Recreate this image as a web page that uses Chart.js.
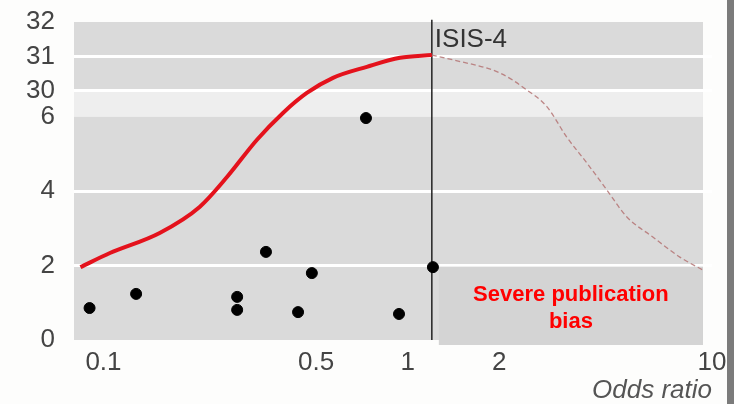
<!DOCTYPE html>
<html>
<head>
<meta charset="utf-8">
<script src="https://cdn.jsdelivr.net/npm/chart.js@4"></script>
<style>
  html, body { margin: 0; padding: 0; background: #fdfdfc; overflow: hidden; }
  #wrap { position: absolute; left: 0; top: 0; width: 727px; height: 404px; }
  #edge { position: absolute; left: 727px; top: 0; width: 7px; height: 404px; background: #7b7b7b; }
</style>
</head>
<body>
<div id="wrap"><canvas id="myChart" width="727" height="404"></canvas></div>
<div id="edge"></div>
<script>
/* trials: odds ratio and size */
const trialOR = [0.09, 0.128, 0.275, 0.275, 0.342, 0.436, 0.484, 0.729, 0.936, 1.21];
const trialN  = [0.86, 1.24, 1.16, 0.81, 2.37, 0.75, 1.80, 5.97, 0.70, 1.96];

/* solid red curve (left of ISIS-4) */
const curveOR = [0.084, 0.105, 0.153, 0.207, 0.255, 0.319, 0.389, 0.466, 0.568, 0.734, 0.943, 1.2];
const curveN  = [1.96, 2.34, 2.88, 3.58, 4.39, 5.38, 9.7, 28.1, 30.38, 30.70, 30.96, 31.04];

/* dashed curve (right of ISIS-4) */
const biasOR = [1.2, 1.41, 2.01, 2.46, 2.87, 3.33, 3.88, 4.51, 5.25, 6.39, 7.84, 9.34];
const biasN  = [31.04, 30.90, 30.52, 30.03, 15.3, 5.46, 4.76, 4.04, 3.31, 2.77, 2.23, 1.88];

const xTicks = [0.1, 0.5, 1, 2, 10];
const xTickLabels = ["0.1", "0.5", "1", "2", "10"];
const yTicks = [0, 2, 4, 6, 30, 31, 32];
const yTickLabels = ["0", "2", "4", "6", "30", "31", "32"];

const isisOR = 1.2;
const isisLabel = "ISIS-4";
const biasText = ["Severe publication", "bias"];
const grayEnd = 9.34;

/* broken y axis: 0-6 as is, 6-30 squeezed, 30-32 above */
function yPos(v){
    if (v <= 6) return v;
    if (v <= 30) return 6 + (v - 6) / 24 * 0.70;
    return 6.70 + (v - 30) * 0.927;
}

const FONT = "'Liberation Sans', Arial, sans-serif";

const backdrop = {
    id: "backdrop",
    beforeDraw(chart){
        const { ctx, chartArea, scales: { x, y } } = chart;
        const right = x.getPixelForValue(grayEnd);
        ctx.save();
        ctx.fillStyle = "#dadada";
        ctx.fillRect(chartArea.left, chartArea.top, right - chartArea.left, chartArea.bottom - chartArea.top);
        const y6 = y.getPixelForValue(yPos(6));
        const y30 = y.getPixelForValue(yPos(30));
        ctx.fillStyle = "#eeeeee";
        ctx.fillRect(chartArea.left, y30, right - chartArea.left, y6 - y30);
        ctx.restore();
    },
    beforeDatasetsDraw(chart){
        const { ctx, chartArea, scales: { x, y } } = chart;
        const left = x.getPixelForValue(isisOR) + 7;
        const right = x.getPixelForValue(grayEnd);
        const top = y.getPixelForValue(yPos(2)) + 1;
        ctx.save();
        ctx.fillStyle = "#d4d4d4";
        ctx.fillRect(left, top, right - left, chartArea.bottom + 5 - top);
        ctx.restore();
    },
    afterDatasetsDraw(chart){
        const { ctx, scales: { x } } = chart;
        const lx = x.getPixelForValue(isisOR);
        ctx.save();
        ctx.fillStyle = "#333";
        ctx.font = "26px " + FONT;
        ctx.textAlign = "left";
        ctx.textBaseline = "middle";
        ctx.fillText(isisLabel, lx + 3, 40);

        const cx = (lx + 7 + x.getPixelForValue(grayEnd)) / 2;
        ctx.fillStyle = "#ff0000";
        ctx.font = "bold 22px " + FONT;
        ctx.textAlign = "center";
        ctx.fillText(biasText[0], cx, 295);
        ctx.fillText(biasText[1], cx, 322);
        ctx.restore();
    }
};

const toPoints = (xs, ys) => xs.map((v, i) => ({ x: v, y: yPos(ys[i]) }));

const config = {
    type: "scatter",
    data: {
        datasets: [
            {
                label: "Trials",
                data: toPoints(trialOR, trialN),
                backgroundColor: "#000",
                borderColor: "#000",
                pointRadius: 5.5,
                pointHoverRadius: 5.5
            },
            {
                label: "Curve",
                data: toPoints(curveOR, curveN),
                showLine: true,
                borderColor: "rgb(228, 18, 28)",
                borderWidth: 4,
                pointRadius: 0,
                cubicInterpolationMode: "monotone"
            },
            {
                label: "Bias",
                data: toPoints(biasOR, biasN),
                showLine: true,
                borderColor: "rgba(180, 115, 115, 0.85)",
                borderWidth: 1.3,
                borderDash: [5, 3],
                pointRadius: 0,
                cubicInterpolationMode: "monotone"
            },
            {
                label: isisLabel,
                data: [{ x: isisOR, y: 0 }, { x: isisOR, y: yPos(32) + 0.06 }],
                showLine: true,
                borderColor: "#222",
                borderWidth: 1.5,
                pointRadius: 0,
                clip: false
            }
        ]
    },
    options: {
        responsive: false,
        animation: false,
        layout: { padding: { top: 22, right: 15, left: 0, bottom: 0 } },
        plugins: { legend: { display: false }, tooltip: { enabled: false } },
        scales: {
            x: {
                type: "logarithmic",
                min: 0.08,
                max: 10,
                afterBuildTicks: (scale) => { scale.ticks = xTicks.map(v => ({ value: v })); },
                afterFit: (scale) => {
                    scale.height = 64;
                    scale.paddingLeft = 0;
                    scale.paddingRight = 0;
                },
                grid: { display: false, drawTicks: false },
                border: { display: false },
                ticks: {
                    autoSkip: false,
                    maxRotation: 0,
                    padding: 7,
                    color: "#444",
                    font: { family: FONT, size: 26 },
                    callback: (val, i) => xTickLabels[i]
                },
                title: {
                    display: true,
                    text: "Odds ratio",
                    align: "end",
                    color: "#555",
                    padding: 0,
                    font: { family: FONT, size: 26, style: "italic", lineHeight: 1 }
                }
            },
            y: {
                min: 0,
                max: yPos(32),
                afterBuildTicks: (scale) => { scale.ticks = yTicks.map(v => ({ value: yPos(v) })); },
                afterFit: (scale) => {
                    scale.width = 74;
                    scale.paddingTop = 0;
                    scale.paddingBottom = 0;
                },
                grid: {
                    drawTicks: false,
                    lineWidth: 3,
                    color: (c) => {
                        const lbl = yTicks[c.index];
                        return (lbl === 2 || lbl === 4 || lbl === 30 || lbl === 31) ? "#ffffff" : "rgba(0,0,0,0)";
                    }
                },
                border: { display: false },
                ticks: {
                    autoSkip: false,
                    padding: 19,
                    color: "#444",
                    font: { family: FONT, size: 26 },
                    callback: (val, i) => yTickLabels[i]
                }
            }
        }
    },
    plugins: [backdrop]
};

const ctx = document.getElementById("myChart").getContext("2d");
const myChart = new Chart(ctx, config);
</script>
</body>
</html>
